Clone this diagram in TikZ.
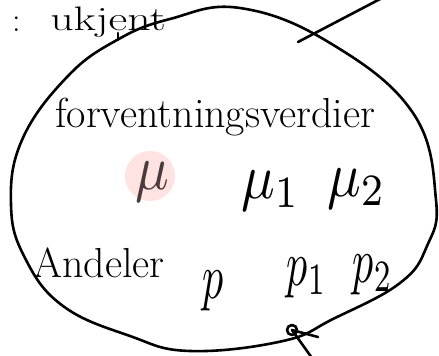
\documentclass[tikz,border=0pt]{standalone}
\usetikzlibrary{calc}
\begin{document}
\begin{tikzpicture}[x=1pt,y=-1pt,
  ink/.style={line width=2.6pt,line cap=round,line join=round,black},
  hand/.style={inner sep=0pt,anchor=base west,black},
  big/.style={font=\fontsize{42}{46}\selectfont},
  greek/.style={inner sep=0pt,anchor=base west,black,xscale=5.6,yscale=6.4},
  pee/.style={inner sep=0pt,anchor=base west,black,xscale=4.2,yscale=6.4}]
\useasboundingbox (0,0) rectangle (439,356);
\clip (0,0) rectangle (439,356);
% highlight
\fill[pink!45] (150,176) circle (25);
% ellipse
\draw[ink] plot[smooth cycle,tension=0.7] coordinates {
 (240,8) (330,43) (413,113) (436,200)
 (427,246) (400,283) (333,319) (283,341) (190,351) (130,336) (63,306)
 (25,258) (11,205) (22,140) (67,77) (117,40) (170,19)};
% top text
\node[hand,font=\fontsize{34}{38}\selectfont] (colon) at (12,31) {:};
\node[hand,font=\fontsize{34}{38}\selectfont,xscale=1.35] (ukjent) at (50,30) {ukjent};
\coordinate (jtop) at (118,33);
\coordinate (jbot) at (118,40);
\draw[ink] (jtop) -- (jbot);
% crossing line top right
\coordinate (tla) at (298,42);
\coordinate (tlb) at (382,-2);
\draw[ink] (tla) -- (tlb);
% arrow at bottom
\coordinate (bla) at (312,358);
\coordinate (blb) at (292,330);
\coordinate (blc) at (318,337);
\draw[ink] (bla) -- (blb);
\draw[ink] (blb) circle (5);
\draw[ink] (blb) -- (blc);
% labels
\node[hand,big] (forv) at (55,127) {forventningsverdier};
\node[greek,text=black!70!pink] (mu) at (134,189) {$\mu$};
\node[greek] (mu1) at (240,198) {$\mu_1$};
\node[greek] (mu2) at (326,196) {$\mu_2$};
\node[hand,big] (andeler) at (33,277) {Andeler};
\node[pee] (p) at (202,298) {$p$};
\node[pee] (p1) at (286,285) {$p_1$};
\node[pee] (p2) at (352,282) {$p_2$};
\end{tikzpicture}
\end{document}
